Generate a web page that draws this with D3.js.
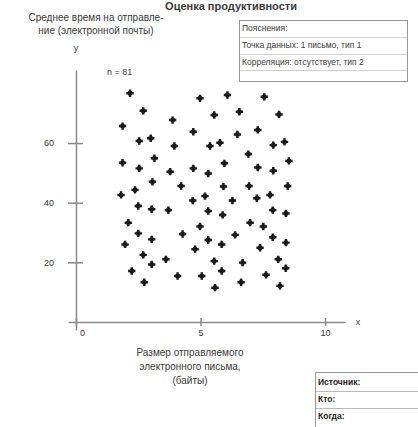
<!DOCTYPE html>
<html><head><meta charset="utf-8">
<script src="https://cdn.jsdelivr.net/npm/d3@7"></script>
<style>body{margin:0;background:#fff}svg{display:block;font-family:"Liberation Sans",Arial,sans-serif}</style>
</head><body><svg id="c" width="418" height="427"></svg>
<script>
const titleText = "Оценка продуктивности";
const yTitle = ["Среднее время на отправле-", "ние (электронной почты)"];
const xTitle = ["Размер отправляемого", "электронного письма,", "(байты)"];
const legendRows = ["Пояснения:", "Точка данных: 1 письмо, тип 1", "Корреляция: отсутствует, тип 2"];
const sourceRows = ["Источник:", "Кто:", "Когда:"];
const xTicks = [0, 5, 10];
const yTicks = [20, 40, 60];
const nLabel = "n = 81";
const xValues = [2.17,4.98,6.08,7.56,2.70,5.55,6.56,8.15,3.88,1.87,4.71,6.48,7.30,2.54,3.00,3.95,5.38,5.78,7.92,8.37,6.92,1.87,2.54,3.15,3.78,4.71,5.31,5.96,7.30,7.92,8.55,3.07,4.22,5.92,6.95,8.50,1.81,2.37,4.69,5.18,6.28,7.26,7.79,2.50,3.04,3.71,5.31,5.89,7.90,8.43,2.10,4.98,6.99,7.52,2.50,3.04,4.28,5.31,6.39,7.90,1.97,5.85,4.78,7.39,8.43,2.70,3.61,3.04,5.55,6.69,8.12,2.24,4.08,5.05,5.85,7.63,8.42,2.74,5.58,6.63,8.19];
const yValues = [76.7,75.0,76.1,75.5,70.8,69.4,70.5,69.6,67.7,65.7,63.8,62.9,64.4,60.7,61.6,59.0,59.0,60.1,59.3,60.4,56.3,53.4,51.5,54.9,50.4,51.5,49.8,53.2,51.8,50.7,54.0,47.0,45.6,45.4,45.6,45.6,42.6,44.3,40.7,42.2,40.7,41.5,42.6,38.9,37.8,37.5,37.2,35.9,37.5,36.4,33.3,32.0,33.3,32.0,29.7,27.7,29.5,27.5,29.2,28.4,26.0,26.0,24.4,24.9,26.6,22.5,21.0,19.3,20.4,19.9,21.0,17.1,15.4,15.4,17.1,15.8,18.0,13.3,11.5,13.3,12.1];

const svg = d3.select("#c");
const x = d3.scaleLinear().domain([-0.32, 10.8]).range([68, 345]);
const y = d3.scaleLinear().domain([-2.7, 84.5]).range([330, 70]);
const axisColor = "#8a8a8a", textColor = "#3a3a3a";

// title
svg.append("text").attr("x", 231).attr("y", 10).attr("text-anchor", "middle")
  .attr("font-size", 11).attr("font-weight", "bold").attr("fill", textColor).text(titleText);

// y title
svg.append("g").selectAll("text").data(yTitle).join("text")
  .attr("x", 96).attr("y", (d, i) => 21 + i * 13).attr("text-anchor", "middle")
  .attr("font-size", 10).attr("fill", textColor).text(d => d);

// x axis
const gx = svg.append("g").attr("transform", `translate(0,${y(0)})`)
  .call(d3.axisBottom(x).tickValues(xTicks).tickSize(0).tickPadding(8).tickFormat(d3.format("d")));
gx.select(".domain").attr("stroke", axisColor).attr("stroke-width", 1.5);
gx.selectAll(".tick line").attr("y1", -4).attr("y2", 4).attr("stroke", axisColor).attr("stroke-width", 1.5);
gx.selectAll(".tick text").attr("fill", textColor).attr("font-size", 9)
  .attr("font-family", "Liberation Sans, Arial, sans-serif")
  .attr("dx", d => d === 0 ? 6 : 0);

// y axis
const gy = svg.append("g").attr("transform", `translate(${x(0)},0)`)
  .call(d3.axisLeft(y).tickValues(yTicks).tickSize(0).tickPadding(22).tickFormat(d3.format("d")));
gy.select(".domain").attr("stroke", axisColor).attr("stroke-width", 1.5);
gy.selectAll(".tick line").attr("x1", -8).attr("x2", 7).attr("stroke", axisColor).attr("stroke-width", 1.5);
gy.selectAll(".tick text").attr("fill", textColor).attr("font-size", 9)
  .attr("font-family", "Liberation Sans, Arial, sans-serif");

// axis letters
svg.append("text").attr("x", x(0)).attr("y", 51).attr("text-anchor", "middle")
  .attr("font-size", 9).attr("fill", textColor).text("y");
svg.append("text").attr("x", 358).attr("y", y(0) + 3).attr("text-anchor", "middle")
  .attr("font-size", 9).attr("fill", textColor).text("x");

// n label
svg.append("text").attr("x", 107).attr("y", 75).attr("font-size", 9).attr("fill", textColor).text(nLabel);

// points
const pts = xValues.map((v, i) => [v, yValues[i]]);
const gp = svg.append("g");
gp.selectAll("path.sq").data(pts).join("path").attr("class", "sq")
  .attr("transform", d => `translate(${x(d[0])},${y(d[1])})`)
  .attr("d", d3.symbol(d3.symbolSquare, 16)).attr("fill", "#1a1a1a");
gp.selectAll("path.cr").data(pts).join("path").attr("class", "cr")
  .attr("transform", d => `translate(${x(d[0])},${y(d[1])})`)
  .attr("d", d3.symbol(d3.symbolCross, 30)).attr("fill", "#1a1a1a");

// x title
svg.append("g").selectAll("text").data(xTitle).join("text")
  .attr("x", 190).attr("y", (d, i) => 356 + i * 14).attr("text-anchor", "middle")
  .attr("font-size", 10).attr("fill", textColor).text(d => d);

// legend box
const lg = svg.append("g");
lg.append("rect").attr("x", 239.5).attr("y", 20.5).attr("width", 168).attr("height", 61)
  .attr("fill", "none").attr("stroke", "#999").attr("stroke-width", 1);
lg.selectAll("line").data([37, 54, 70]).join("line")
  .attr("x1", 240).attr("x2", 407).attr("y1", d => d + 0.5).attr("y2", d => d + 0.5)
  .attr("stroke", "#d0d0d0");
lg.selectAll("text").data(legendRows).join("text")
  .attr("x", 242).attr("y", (d, i) => 31 + i * 17).attr("font-size", 8.5).attr("fill", textColor).text(d => d);

// source box
const sg = svg.append("g");
sg.append("rect").attr("x", 315.5).attr("y", 372.5).attr("width", 110).attr("height", 60)
  .attr("fill", "none").attr("stroke", "#999");
sg.selectAll("line").data([391, 408]).join("line")
  .attr("x1", 316).attr("x2", 418).attr("y1", d => d + 0.5).attr("y2", d => d + 0.5).attr("stroke", "#bbb");
sg.selectAll("text").data(sourceRows).join("text")
  .attr("x", 318).attr("y", (d, i) => 385 + i * 17).attr("font-size", 8.5).attr("font-weight", "bold")
  .attr("fill", "#222").text(d => d);
</script></body></html>
